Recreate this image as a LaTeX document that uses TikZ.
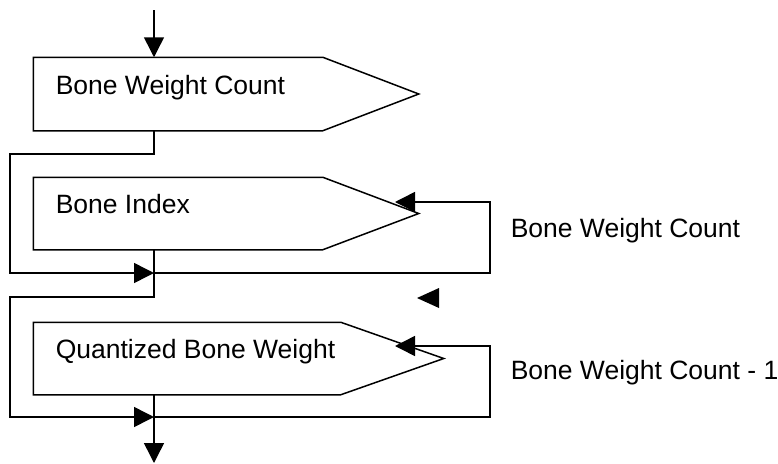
\documentclass[tikz,border=0pt]{standalone}
\usepackage{fontspec}
\setmainfont{Liberation Sans}
\usetikzlibrary{arrows.meta,calc}
\begin{document}
\begin{tikzpicture}[x=1pt,y=-1pt,
  line width=1.5pt,
  arr/.style={-{Triangle[length=20pt,width=20pt]}},
  boxarea/.style={rectangle, draw=none, inner sep=0pt},
  txt/.style={anchor=base west, inner sep=0pt, font=\fontsize{26.5}{30}\selectfont}]
\useasboundingbox (0,0) rectangle (778,463);

% boxes
\node[boxarea, minimum width=288pt, minimum height=72pt] (b1) at (178,94) {};
\coordinate (t1) at ($(b1.east)+(96,0)$);
\draw (b1.north west) -- (b1.north east) -- (t1) -- (b1.south east) -- (b1.south west) -- cycle;

\node[boxarea, minimum width=288pt, minimum height=71pt] (b2) at (178,213.5) {};
\coordinate (t2) at ($(b2.east)+(96,0)$);
\draw (b2.north west) -- (b2.north east) -- (t2) -- (b2.south east) -- (b2.south west) -- cycle;

\node[boxarea, minimum width=306pt, minimum height=71pt] (b3) at (187,358.5) {};
\coordinate (t3) at ($(b3.east)+(103,0)$);
\draw (b3.north west) -- (b3.north east) -- (t3) -- (b3.south east) -- (b3.south west) -- cycle;

% texts
\node[txt] (l1) at (55,94) {Bone Weight Count};
\node[txt] (l2) at (55,213) {Bone Index};
\node[txt] (l3) at (55,358) {Quantized Bone Weight};
\node[txt] (c1) at (510,237) {Bone Weight Count};
\node[txt] (c2) at (510,379) {Bone Weight Count - 1};

% coordinates
\coordinate (in) at (154,10);
\coordinate (r1) at (10,154);
\coordinate (j1) at (154,273);
\coordinate (q1) at (490,202);
\coordinate (e2) at (395,202);
\coordinate (r2) at (10,297);
\coordinate (j2) at (154,417);
\coordinate (q2) at (490,346);
\coordinate (e3) at (395,346);
\coordinate (out) at (154,463);
\coordinate (s) at (417,298);

% connectors
\draw[arr] (in) -- (in |- b1.north);
\draw[arr] (b1.south -| in) |- (r1) |- (j1);
\draw[arr] (j1) -| (q1) -- (e2);
\draw[arr] (b2.south -| in) |- (r2) |- (j2);
\draw[arr] (j2) -| (q2) -- (e3);
\draw[arr] (b3.south -| in) -- (out);

% stray arrowhead
\fill (s) -- ++(22,-10) -- ++(0,20) -- cycle;
\end{tikzpicture}
\end{document}
